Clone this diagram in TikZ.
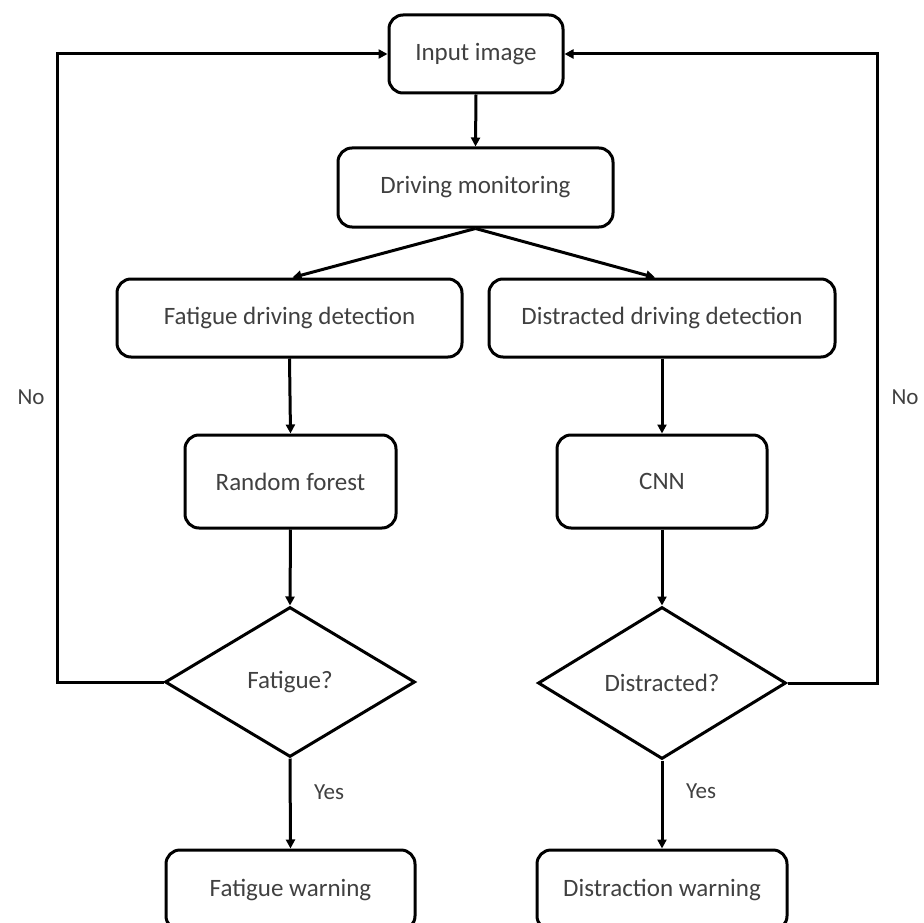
\documentclass[tikz,border=0pt]{standalone}
\usepackage{fontspec}
\setmainfont{Carlito}
\usetikzlibrary{shapes.geometric,arrows.meta}
\definecolor{txt}{HTML}{404040}
\tikzset{
  box/.style={draw=black, line width=3pt, rounded corners=14pt, inner sep=0pt,
    font=\fontsize{25}{30}\selectfont, text=txt, align=center},
  dec/.style={draw=black, line width=3pt, diamond, inner sep=0pt, aspect=1.6,
    font=\fontsize{25}{30}\selectfont, text=txt},
  lbl/.style={font=\fontsize{23}{28}\selectfont, text=txt, inner sep=0pt},
  conn/.style={draw=black, line width=3pt, -{Triangle[length=9pt,width=9pt]}},
  link/.style={draw=black, line width=3pt}
}
\begin{document}
\begin{tikzpicture}[x=1pt,y=-1pt]
\useasboundingbox (0,0) rectangle (924,923);
\clip (0,0) rectangle (924,923);
\node[box, minimum width=174pt, minimum height=78pt] (inp) at (476,54) {Input image};
\node[box, minimum width=275pt, minimum height=79pt] (drv) at (475.5,187.5) {Driving monitoring};
\node[box, minimum width=345pt, minimum height=78pt] (fat) at (289.5,318) {Fatigue driving detection};
\node[box, minimum width=346pt, minimum height=78pt] (dis) at (662,318) {Distracted driving detection};
\node[box, minimum width=211pt, minimum height=93pt] (rf) at (290.5,481.5) {Random forest};
\node[box, minimum width=210pt, minimum height=93pt] (cnn) at (662,481.5) {CNN};
\node[dec, minimum width=250pt, minimum height=150pt] (fq) at (290,682) {Fatigue?};
\node[dec, minimum width=248pt, minimum height=152pt] (dq) at (662,683) {Distracted?};
\node[box, minimum width=249pt, minimum height=80pt] (fw) at (290.5,890) {Fatigue warning};
\node[box, minimum width=250pt, minimum height=80pt] (dw) at (662,890) {Distraction warning};
\coordinate (lb) at (57,682);
\coordinate (lt) at (57,54);
\coordinate (rb) at (877,683);
\coordinate (rt) at (877,54);
\node[lbl] (no1) at (31,397) {No};
\node[lbl] (no2) at (905,397) {No};
\node[lbl] (yes1) at (329,792) {Yes};
\node[lbl] (yes2) at (701,791) {Yes};
\draw[conn] (inp.south) -- (drv.north);
\draw[conn] (drv.south) -- ([xshift=3pt]fat.north);
\draw[conn] (drv.south) -- ([xshift=-7pt]dis.north);
\draw[conn] (fat.south) -- (rf.north);
\draw[conn] (dis.south) -- (cnn.north);
\draw[conn] (rf.south) -- (fq.north);
\draw[conn] (cnn.south) -- (dq.north);
\draw[conn] (fq.south) -- (fw.north);
\draw[conn] (dq.south) -- (dw.north);
\draw[conn, line join=miter] (fq.west) -- (lb) -- (lt) -- (inp.west);
\draw[conn, line join=miter] (dq.east) -- (rb) -- (rt) -- (inp.east);
\end{tikzpicture}
\end{document}
